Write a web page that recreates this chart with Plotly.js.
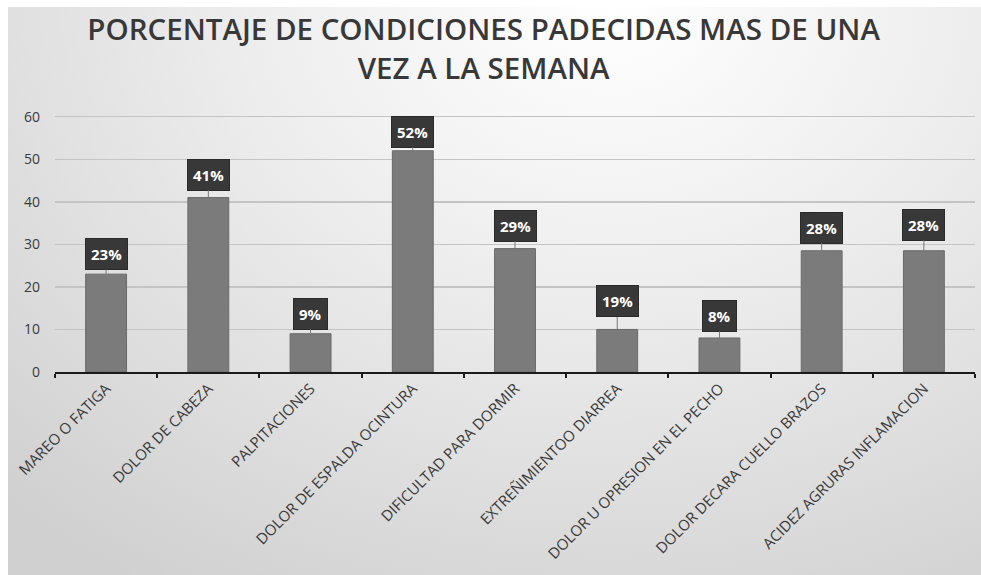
<!DOCTYPE html>
<html>
<head>
<meta charset="utf-8">
<script src="https://cdn.plot.ly/plotly-3.0.1.min.js"></script>
<style>
  html, body { margin: 0; padding: 0; background: #ffffff; }
  #bg { position: absolute; left: 8px; top: 7px; width: 973px; height: 568px;
        background: radial-gradient(ellipse 90% 120% at 62% 0%, #ffffff 0%, #eeeeee 40%, #d0d0d0 100%); }
  #chart { position: absolute; left: 0; top: 0; width: 981px; height: 575px; }
</style>
</head>
<body>
<div id="bg"></div>
<div id="chart"></div>
<script>
const categories = [
  "MAREO O FATIGA",
  "DOLOR DE CABEZA",
  "PALPITACIONES",
  "DOLOR DE ESPALDA OCINTURA",
  "DIFICULTAD PARA DORMIR",
  "EXTREÑIMIENTOO DIARREA",
  "DOLOR U OPRESION EN EL PECHO",
  "DOLOR DECARA CUELLO BRAZOS",
  "ACIDEZ AGRURAS INFLAMACION"
];
const values = [23, 41, 9, 52, 29, 10, 8, 28.5, 28.5];
const labels = ["23%", "41%", "9%", "52%", "29%", "19%", "8%", "28%", "28%"];
const labelOffsets = [-20, -23, -20, -19, -23, -28, -22, -23, -26];
const yTicks = [0, 10, 20, 30, 40, 50, 60];

const trace = {
  type: "bar",
  x: categories,
  y: values,
  marker: { color: "#7b7b7b", line: { color: "#6a6a6a", width: 1 } },
  width: 0.4,
  hoverinfo: "x+y"
};

const annotations = categories.map((c, i) => ({
  x: c, y: values[i], xref: "x", yref: "y",
  text: "<b>" + labels[i] + "</b>",
  showarrow: true, arrowhead: 0, arrowwidth: 1, arrowcolor: "#777777",
  ax: 0, ay: labelOffsets[i],
  font: { family: "Open Sans, sans-serif", size: 15, color: "#ffffff" },
  bgcolor: "#383838", bordercolor: "#2a2a2a", borderwidth: 1, borderpad: 5
}));

const layout = {
  width: 981, height: 575,
  paper_bgcolor: "rgba(0,0,0,0)",
  plot_bgcolor: "rgba(0,0,0,0)",
  margin: { l: 55, r: 6, t: 115, b: 203 },
  title: {
    text: "PORCENTAJE DE CONDICIONES PADECIDAS MAS DE UNA<br>VEZ A LA SEMANA",
    font: { family: "Open Sans, sans-serif", size: 29.5, color: "#383838", weight: 600 },
    x: 0.493, xanchor: "center", yref: "container", y: 0.930, yanchor: "middle"
  },
  xaxis: {
    type: "category",
    tickangle: -45,
    tickfont: { family: "Open Sans, sans-serif", size: 15, color: "#3a3a3a" },
    showline: true, linecolor: "#1a1a1a", linewidth: 2,
    ticks: "outside", tickson: "boundaries", ticklen: 4, tickcolor: "#1a1a1a", tickwidth: 2,
    showgrid: false
  },
  yaxis: {
    range: [0, 60.4],
    tickvals: yTicks,
    ticktext: yTicks.map(String),
    tickfont: { family: "Open Sans, sans-serif", size: 14, color: "#3a3a3a" },
    showgrid: true, gridcolor: "#c4c4c4", gridwidth: 1.5,
    zeroline: false, showline: false, ticks: "", ticklabelstandoff: 14
  },
  bargap: 0.6,
  showlegend: false,
  annotations: annotations
};

Plotly.newPlot("chart", [trace], layout, { displayModeBar: false, staticPlot: true });
</script>
</body>
</html>
